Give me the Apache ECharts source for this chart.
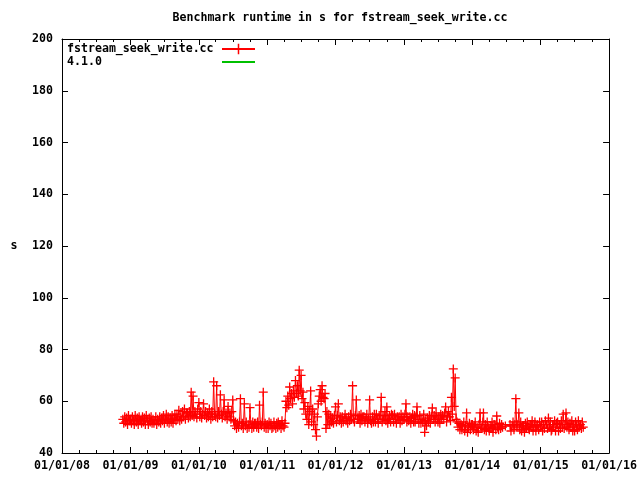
<!DOCTYPE html>
<html><head><meta charset="utf-8">
<script src="https://cdn.jsdelivr.net/npm/echarts@6/dist/echarts.min.js"></script>
<style>html,body{margin:0;padding:0;background:#fff}#c{width:640px;height:480px}</style>
</head><body><div id="c"></div>
<script>
// ---- data (runtime in s) ----
const dates2008 = ['2008-11-21','2008-11-26','2008-12-01','2008-12-06','2008-12-11','2008-12-16','2008-12-21','2008-12-26'];
const vals2008  = [53,51.5,54,52,53.5,51,54.5,52.5];

const dates2009 = ['2009-01-01','2009-01-06','2009-01-11','2009-01-16','2009-01-21','2009-01-26','2009-02-01','2009-02-06','2009-02-11','2009-02-16','2009-02-21','2009-02-26','2009-03-01','2009-03-06','2009-03-11','2009-03-16','2009-03-21','2009-03-26','2009-04-01','2009-04-06','2009-04-11','2009-04-16','2009-04-21','2009-04-26','2009-05-01','2009-05-06','2009-05-11','2009-05-16','2009-05-21','2009-05-26','2009-06-01','2009-06-06','2009-06-11','2009-06-16','2009-06-21','2009-06-26','2009-07-01','2009-07-06','2009-07-11','2009-07-16','2009-07-21','2009-07-26','2009-08-01','2009-08-06','2009-08-11','2009-08-16','2009-08-21','2009-08-26','2009-09-01','2009-09-06','2009-09-11','2009-09-16','2009-09-21','2009-09-26','2009-10-01','2009-10-06','2009-10-11','2009-10-16','2009-10-21','2009-10-26','2009-11-01','2009-11-06','2009-11-11','2009-11-16','2009-11-21','2009-11-26','2009-12-01','2009-12-06','2009-12-11','2009-12-16','2009-12-21','2009-12-26'];
const vals2009  = [53,51.5,54,52.5,51,54.5, 52,53.5,51,54,52.5,53, 51.5,54,52,53.5,51,54.5, 52.5,51,53.5,52,54,51.5, 53,51.5,52.5,54,51,53, 52,54,51.5,53.5,52.5,54.5, 51.5,53,55,52,54,51.5, 53.5,52,54.5,51.5,53,55, 52.5,55,53,56.5,52.5,54, 53,56,54,57,53,55.5, 55.5,53.5,56,54,63.5,54.5, 62,54,56,55,53.5,57];

const dates2010 = ['2010-01-01','2010-01-06','2010-01-11','2010-01-16','2010-01-21','2010-01-26','2010-02-01','2010-02-06','2010-02-11','2010-02-16','2010-02-21','2010-02-26','2010-03-01','2010-03-06','2010-03-11','2010-03-16','2010-03-21','2010-03-26','2010-04-01','2010-04-06','2010-04-11','2010-04-16','2010-04-21','2010-04-26','2010-05-01','2010-05-06','2010-05-11','2010-05-16','2010-05-21','2010-05-26','2010-06-01','2010-06-06','2010-06-11','2010-06-16','2010-06-21','2010-06-26','2010-07-01','2010-07-06','2010-07-11','2010-07-16','2010-07-21','2010-07-26','2010-08-01','2010-08-06','2010-08-11','2010-08-16','2010-08-21','2010-08-26','2010-09-01','2010-09-06','2010-09-11','2010-09-16','2010-09-21','2010-09-26','2010-10-01','2010-10-06','2010-10-11','2010-10-16','2010-10-21','2010-10-26','2010-11-01','2010-11-06','2010-11-11','2010-11-16','2010-11-21','2010-11-26','2010-12-01','2010-12-06','2010-12-11','2010-12-16','2010-12-21','2010-12-26'];
const vals2010  = [59.5,54,56,53.5,55,59, 54.5,56,53.5,55.5,54,57, 55,53,56,54,67.5,55, 54,66,53.5,56,54.5,62.5, 55,53.5,56,60.5,54,55.5, 53,58,54,55.5,53,56, 60.5,52.5,50.5,52,49.5,51.5, 50,52,61,50.5,51.5,49.5, 59,50.5,52,49.5,51,50, 57.5,51,49.5,52,50,51.5, 51.5,50,52,49.5,58.5,51, 50.5,52,63.5,50,51.5,49.5];

const dates2011 = ['2011-01-01','2011-01-06','2011-01-11','2011-01-16','2011-01-21','2011-01-26','2011-02-01','2011-02-06','2011-02-11','2011-02-16','2011-02-21','2011-02-26','2011-03-01','2011-03-06','2011-03-11','2011-03-16','2011-03-21','2011-03-26','2011-04-01','2011-04-06','2011-04-11','2011-04-16','2011-04-21','2011-04-26','2011-05-01','2011-05-06','2011-05-11','2011-05-16','2011-05-21','2011-05-26','2011-06-01','2011-06-06','2011-06-11','2011-06-16','2011-06-21','2011-06-26','2011-07-01','2011-07-06','2011-07-11','2011-07-16','2011-07-21','2011-07-26','2011-08-01','2011-08-06','2011-08-11','2011-08-16','2011-08-21','2011-08-26','2011-09-01','2011-09-06','2011-09-11','2011-09-16','2011-09-21','2011-09-26','2011-10-01','2011-10-06','2011-10-11','2011-10-16','2011-10-21','2011-10-26','2011-11-01','2011-11-06','2011-11-11','2011-11-16','2011-11-21','2011-11-26','2011-12-01','2011-12-06','2011-12-11','2011-12-16','2011-12-21','2011-12-26'];
const vals2011  = [51,49.5,52,50.5,51.5,49.5, 50,52,50.5,49.5,51.5,50, 52,50.5,51,49.5,52.5,50.5, 50,51.5,60,57.5,62,58.5, 65.5,61,63,59,64,61.5, 68,63,66,62,72,64, 70,61,63.5,57,59.5,55, 53,58,51,56,64,52, 57,51,55,49,46.5,54, 59,62,64.5,60,66,61.5, 61,63,49.5,56,51,55, 51,54,52,53.5,51.5,54.5];

const dates2012 = ['2012-01-01','2012-01-06','2012-01-11','2012-01-16','2012-01-21','2012-01-26','2012-02-01','2012-02-06','2012-02-11','2012-02-16','2012-02-21','2012-02-26','2012-03-01','2012-03-06','2012-03-11','2012-03-16','2012-03-21','2012-03-26','2012-04-01','2012-04-06','2012-04-11','2012-04-16','2012-04-21','2012-04-26','2012-05-01','2012-05-06','2012-05-11','2012-05-16','2012-05-21','2012-05-26','2012-06-01','2012-06-06','2012-06-11','2012-06-16','2012-06-21','2012-06-26','2012-07-01','2012-07-06','2012-07-11','2012-07-16','2012-07-21','2012-07-26','2012-08-01','2012-08-06','2012-08-11','2012-08-16','2012-08-21','2012-08-26','2012-09-01','2012-09-06','2012-09-11','2012-09-16','2012-09-21','2012-09-26','2012-10-01','2012-10-06','2012-10-11','2012-10-16','2012-10-21','2012-10-26','2012-11-01','2012-11-06','2012-11-11','2012-11-16','2012-11-21','2012-11-26','2012-12-01','2012-12-06','2012-12-11','2012-12-16','2012-12-21','2012-12-26'];
const vals2012  = [57.8,52,54.5,59,52.5,54, 51.5,54,52,53.5,55,52.5, 53.5,51.5,54,52.5,55,53, 66,53,52,54.5,60.5,53, 53,54.5,51.5,55,52.5,54, 54,52,53.5,55,51.5,53, 60.5,52.5,51.5,54,52,55, 52,55,53,51.5,54.5,53, 61.5,52,54.5,53,56,52.5, 57.8,51.5,53,54.5,52,55, 54.5,52,55,53,51.5,54, 53,54,51.5,55,52.5,54];

const dates2013 = ['2013-01-01','2013-01-06','2013-01-11','2013-01-16','2013-01-21','2013-01-26','2013-02-01','2013-02-06','2013-02-11','2013-02-16','2013-02-21','2013-02-26','2013-03-01','2013-03-06','2013-03-11','2013-03-16','2013-03-21','2013-03-26','2013-04-01','2013-04-06','2013-04-11','2013-04-16','2013-04-21','2013-04-26','2013-05-01','2013-05-06','2013-05-11','2013-05-16','2013-05-21','2013-05-26','2013-06-01','2013-06-06','2013-06-11','2013-06-16','2013-06-21','2013-06-26','2013-07-01','2013-07-06','2013-07-11','2013-07-16','2013-07-21','2013-07-26','2013-08-01','2013-08-06','2013-08-11','2013-08-16','2013-08-21','2013-08-26','2013-09-01','2013-09-06','2013-09-11','2013-09-16','2013-09-21','2013-09-26','2013-10-01','2013-10-06','2013-10-11','2013-10-16','2013-10-21','2013-10-26','2013-11-01','2013-11-06','2013-11-11','2013-11-16','2013-11-21','2013-11-26','2013-12-01','2013-12-06','2013-12-11','2013-12-16','2013-12-21','2013-12-26'];
const vals2013  = [53,55,59,52,54,52.5, 54,51.5,53.5,55,52,54.5, 52,54,57.8,53,51.5,54.5, 51.5,53,52,55,48,52.5, 50.5,53.5,52,54.5,51.5,54, 57.4,53,54.5,52,55.5,53, 52,54,51.5,55,53,54.5, 53,55.5,57.8,52,54,56, 54,52.5,61.5,55,72.5,58, 69,53,52,50,51.5,49, 51,49,50.5,52,48.5,50.5, 55.5,48,50,51.5,49,51];

const dates2014 = ['2014-01-01','2014-01-06','2014-01-11','2014-01-16','2014-01-21','2014-01-26','2014-02-01','2014-02-06','2014-02-11','2014-02-16','2014-02-21','2014-02-26','2014-03-01','2014-03-06','2014-03-11','2014-03-16','2014-03-21','2014-03-26','2014-04-01','2014-04-06','2014-04-11','2014-04-16','2014-04-21','2014-04-26','2014-05-01','2014-05-06','2014-05-11','2014-05-16','2014-05-21','2014-05-26','2014-06-01','2014-06-06','2014-06-11','2014-06-26','2014-07-21','2014-07-26','2014-08-01','2014-08-06','2014-08-11','2014-08-16','2014-08-21','2014-08-26','2014-09-01','2014-09-06','2014-09-11','2014-09-16','2014-09-21','2014-09-26','2014-10-01','2014-10-06','2014-10-11','2014-10-16','2014-10-21','2014-10-26','2014-11-01','2014-11-06','2014-11-11','2014-11-16','2014-11-21','2014-11-26','2014-12-01','2014-12-06','2014-12-11','2014-12-16','2014-12-21','2014-12-26'];
const vals2014  = [51,49,50.5,52,48.5,50, 48,51,55.5,49.5,50,52, 55.5,49,51,48.5,52,50, 48.5,50.5,49.5,52,48,51, 51,49,54.3,50,49,51.5, 49.5,51,50,50.4, 51,48.5, 50.5,52,49,51,61,50, 51,55.5,49,52,48.5,50.5, 50.5,48,51.5,49.5,52,50, 49,51,50,52.5,48.5,50.5, 52,48.5,50.5,51,49,52];

const dates2015 = ['2015-01-01','2015-01-06','2015-01-11','2015-01-16','2015-01-21','2015-01-26','2015-02-01','2015-02-06','2015-02-11','2015-02-16','2015-02-21','2015-02-26','2015-03-01','2015-03-06','2015-03-11','2015-03-16','2015-03-21','2015-03-26','2015-04-01','2015-04-06','2015-04-11','2015-04-16','2015-04-21','2015-04-26','2015-05-01','2015-05-06','2015-05-11','2015-05-16','2015-05-21','2015-05-26','2015-06-01','2015-06-06','2015-06-11','2015-06-16','2015-06-21','2015-06-26','2015-07-01','2015-07-06','2015-07-11','2015-07-16','2015-07-21','2015-07-26','2015-08-01','2015-08-06','2015-08-11','2015-08-16'];
const vals2015  = [50,52,48.5,51,49.5,52.5, 51,49.5,53.5,50,52,48.5, 49,51,50,52.5,48.5,51.5, 52,48.5,51,49.5,52.5,50, 55,49.5,51,55.5,50,52, 49,51.5,50,52.5,48.5,51, 48.5,52,50.5,49,52.5,50, 51,49.5,52,50];

const vals410 = []; // 4.1.0 reference series (no visible points)

const xTickDates  = ['2008-01-01','2009-01-01','2010-01-01','2011-01-01','2012-01-01','2013-01-01','2014-01-01','2015-01-01','2016-01-01'];
const xTickLabels = ['01/01/08','01/01/09','01/01/10','01/01/11','01/01/12','01/01/13','01/01/14','01/01/15','01/01/16'];
const yTicks = [40, 60, 80, 100, 120, 140, 160, 180, 200];

// ---- helpers ----
function toTs(s){ const p = s.split('-').map(Number); return Date.UTC(p[0], p[1]-1, p[2]); }
const allDates = [dates2008,dates2009,dates2010,dates2011,dates2012,dates2013,dates2014,dates2015];
const allVals  = [vals2008,vals2009,vals2010,vals2011,vals2012,vals2013,vals2014,vals2015];
const mainData = [];
allDates.forEach((ds,i)=>ds.forEach((d,j)=>mainData.push([toTs(d), allVals[i][j]])));

const yearTs = xTickDates.map(toTs);
const quarterTs = [];
for (let i = 0; i < xTickDates.length - 1; i++) {
  const y = Number(xTickDates[i].slice(0,4));
  [3,6,9].forEach(m => quarterTs.push(Date.UTC(y, m, 1)));
}
function fmtX(v){ const i = yearTs.indexOf(v); return i >= 0 ? xTickLabels[i] : ''; }

const F = 'DejaVu Sans Mono';
const FS = 11.6;
const txt = {fontFamily:F, fontWeight:'bold', fontSize:FS, color:'#000'};
const plus = 'path://M3.85,0L5.15,0L5.15,3.85L9,3.85L9,5.15L5.15,5.15L5.15,9L3.85,9L3.85,5.15L0,5.15L0,3.85L3.85,3.85Z';

const xMin = yearTs[0], xMax = yearTs[yearTs.length-1];
function xAx(pos, ticks, len, withLine, withLabel){
  return {
    type:'value', position:pos, min:xMin, max:xMax, scale:true,
    splitLine:{show:false},
    axisLine:{show:withLine, onZero:false, lineStyle:{color:'#000', width:1}},
    axisTick:{show:true, inside:true, length:len, customValues:ticks, lineStyle:{color:'#000', width:1}},
    axisLabel: withLabel ? Object.assign({show:true, customValues:yearTs, formatter:fmtX, margin:7}, txt) : {show:false},
    axisPointer:{show:false}
  };
}
function yAx(pos, withLabel){
  return {
    type:'value', position:pos, min:yTicks[0], max:yTicks[yTicks.length-1], interval:20,
    splitLine:{show:false},
    axisLine:{show:true, onZero:false, lineStyle:{color:'#000', width:1}},
    axisTick:{show:true, inside:true, length:6, lineStyle:{color:'#000', width:1}},
    axisLabel: withLabel ? Object.assign({show:true, margin:9}, txt) : {show:false}
  };
}

const chart = echarts.init(document.getElementById('c'), null, {renderer:'canvas'});
chart.setOption({
  animation:false,
  backgroundColor:'#fff',
  grid:{left:62, right:21, top:39, bottom:27, containLabel:false},
  graphic:[
    {type:'text', style:{text:'Benchmark runtime in s for fstream_seek_write.cc', x:340, y:18, textAlign:'center', textVerticalAlign:'middle', font:'bold '+FS+'px '+F, fill:'#000'}},
    {type:'text', style:{text:'s', x:14, y:246, textAlign:'center', textVerticalAlign:'middle', font:'bold '+FS+'px '+F, fill:'#000'}}
  ],
  legend:{
    left:67, top:43, orient:'vertical', align:'right', selectedMode:false, padding:0,
    itemWidth:33, itemHeight:13, itemGap:1,
    formatter: name => '{a|' + name + '}',
    textStyle:Object.assign({rich:{a:Object.assign({width:150, align:'left'}, txt)}}, txt),
    data:[{name:'fstream_seek_write.cc'}, {name:'4.1.0', itemStyle:{opacity:0}}]
  },
  xAxis:[
    xAx('bottom', yearTs, 6, true, true),
    xAx('bottom', quarterTs, 3, false, false),
    xAx('top', yearTs, 6, true, false),
    xAx('top', quarterTs, 3, false, false)
  ],
  yAxis:[ yAx('left', true), yAx('right', false) ],
  series:[
    {name:'fstream_seek_write.cc', type:'line', xAxisIndex:0, yAxisIndex:0, data:mainData,
     symbol:plus, symbolSize:9, showAllSymbol:true, clip:true,
     lineStyle:{color:'#ff0000', width:1}, itemStyle:{color:'#ff0000', borderWidth:0},
     emphasis:{disabled:true}, silent:true},
    {name:'4.1.0', type:'line', xAxisIndex:0, yAxisIndex:0, data:vals410,
     symbol:'none', lineStyle:{color:'#00c000', width:1}, itemStyle:{color:'#00c000'},
     emphasis:{disabled:true}, silent:true}
  ]
});
</script>
</body></html>
